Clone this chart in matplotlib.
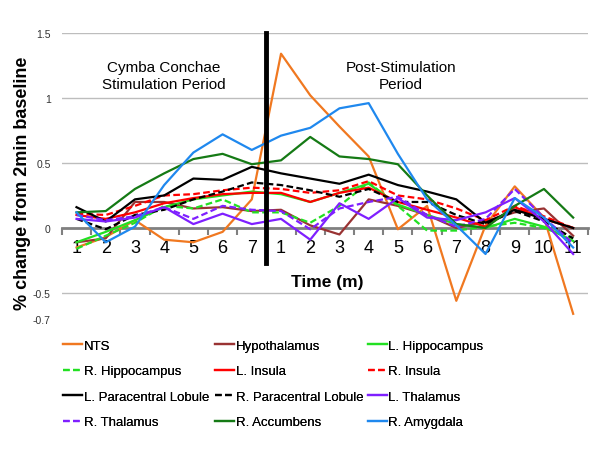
import numpy as np
import matplotlib
matplotlib.use("Agg")
import matplotlib.pyplot as plt

plt.rcParams['font.family'] = ['Liberation Sans', 'DejaVu Sans']

# category labels: 7 min stimulation + 11 min post-stimulation
tick_labels = [str(i) for i in range(1, 8)] + [str(i) for i in range(1, 12)]

nts = [-0.15, -0.07, 0.06, -0.09, -0.11, -0.03, 0.22, 1.34, 1.02, 0.78, 0.55, -0.01, 0.17, -0.56, 0.02, 0.32, 0.08, -0.66]
hypothalamus = [-0.11, -0.08, 0.2, 0.2, 0.15, 0.16, 0.13, 0.14, 0.02, -0.05, 0.22, 0.17, 0.1, 0.0, 0.05, 0.12, 0.15, -0.06]
l_hippo = [-0.11, -0.03, 0.06, 0.16, 0.22, 0.25, 0.28, 0.26, 0.2, 0.27, 0.34, 0.18, 0.1, 0.03, 0.0, 0.07, 0.01, -0.1]
r_hippo = [-0.16, -0.06, 0.04, 0.17, 0.15, 0.22, 0.12, 0.12, 0.04, 0.17, 0.35, 0.17, -0.02, -0.02, 0.01, 0.04, 0.0, -0.08]
l_insula = [0.1, 0.07, 0.12, 0.19, 0.23, 0.26, 0.27, 0.27, 0.2, 0.27, 0.31, 0.2, 0.14, 0.08, 0.01, 0.16, 0.07, 0.0]
r_insula = [0.11, 0.1, 0.17, 0.25, 0.26, 0.29, 0.31, 0.3, 0.27, 0.29, 0.36, 0.25, 0.22, 0.15, 0.06, 0.17, 0.09, 0.0]
l_paracentral = [0.16, 0.05, 0.22, 0.25, 0.38, 0.37, 0.47, 0.42, 0.38, 0.34, 0.41, 0.33, 0.28, 0.22, 0.04, 0.14, 0.07, 0.0]
r_paracentral = [0.07, -0.01, 0.1, 0.14, 0.22, 0.28, 0.35, 0.33, 0.29, 0.24, 0.3, 0.2, 0.2, 0.1, 0.03, 0.13, 0.05, -0.08]
l_thalamus = [0.07, 0.05, 0.08, 0.16, 0.03, 0.11, 0.03, 0.07, -0.09, 0.19, 0.07, 0.23, 0.08, 0.06, 0.12, 0.23, 0.05, -0.2]
r_thalamus = [0.1, 0.06, 0.09, 0.16, 0.07, 0.17, 0.14, 0.13, -0.01, 0.15, 0.2, 0.24, 0.1, 0.01, 0.07, 0.3, 0.08, -0.12]
r_accumbens = [0.12, 0.13, 0.3, 0.42, 0.53, 0.57, 0.49, 0.52, 0.7, 0.55, 0.53, 0.49, 0.25, 0.03, 0.0, 0.17, 0.3, 0.08]
r_amygdala = [0.12, -0.11, 0.01, 0.33, 0.58, 0.72, 0.6, 0.71, 0.77, 0.92, 0.96, 0.57, 0.22, 0.02, -0.2, 0.23, 0.08, -0.15]

series = [
    ("NTS", nts, "#f07820", "-"),
    ("Hypothalamus", hypothalamus, "#993333", "-"),
    ("L. Hippocampus", l_hippo, "#22e022", "-"),
    ("R. Hippocampus", r_hippo, "#22e022", "--"),
    ("L. Insula", l_insula, "#ff0000", "-"),
    ("R. Insula", r_insula, "#ff0000", "--"),
    ("L. Paracentral Lobule", l_paracentral, "#000000", "-"),
    ("R. Paracentral Lobule", r_paracentral, "#000000", "--"),
    ("L. Thalamus", l_thalamus, "#7f1fff", "-"),
    ("R. Thalamus", r_thalamus, "#7f1fff", "--"),
    ("R. Accumbens", r_accumbens, "#157a15", "-"),
    ("R. Amygdala", r_amygdala, "#1f88ee", "-"),
]

fig = plt.figure(figsize=(6.01, 4.52), dpi=100)
ax = fig.add_axes([0.103, 0.292, 0.875, 0.633])

x = np.arange(len(tick_labels))
handles = []
for name, vals, col, ls in series:
    h, = ax.plot(x, vals, color=col, linestyle=ls, lw=1.6, label=name,
                 dashes=(3, 1.5) if ls == "--" else (None, None))
    handles.append(h)

ax.set_xlim(-0.5, len(x) - 0.5)
ax.set_ylim(-0.7, 1.5)
ax.set_yticks([1.5, 1, 0.5, 0, -0.5, -0.7])
ax.set_yticklabels(["1.5", "1", "0.5", "0", "-0.5", "-0.7"], fontsize=7.5, color="#333333")
ax.tick_params(axis="y", length=0, pad=8)
for v in [1.5, 1, 0.5, -0.5]:
    ax.axhline(v, color="#bdbdbd", lw=1, zorder=0)

for s in ["left", "right", "top"]:
    ax.spines[s].set_visible(False)
ax.spines["bottom"].set_position(("data", 0))
ax.spines["bottom"].set_color("#808080")
ax.spines["bottom"].set_linewidth(2)
ax.spines["bottom"].set_zorder(1)
ax.set_xticks(x)
ax.set_xticklabels(tick_labels, fontsize=13)
ax.set_xticks(np.arange(-0.5, len(x), 1), minor=True)
ax.tick_params(axis="x", which="major", length=0, pad=8)
ax.tick_params(axis="x", which="minor", length=5, width=1.5, color="#808080", direction="out")

# divider between stimulation and post-stimulation
ax.plot([6.5, 6.5], [-0.27, 1.5], color="black", lw=3.5, zorder=5, clip_on=False)

ax.text(3.0, 1.17, "Cymba Conchae\nStimulation Period", ha="center", va="center",
        fontsize=11, linespacing=1.3)
ax.text(11.1, 1.17, "Post-Stimulation\nPeriod", ha="center", va="center",
        fontsize=11, linespacing=1.3)

fig.text(0.545, 0.376, "Time (m)", ha="center", va="center", fontsize=12.5, fontweight="bold")
fig.text(0.037, 0.595, "% change from 2min baseline", rotation=90, ha="center", va="center",
         fontsize=13, fontweight="bold")

# legend: three columns, filled row-wise like the original
col_x = [0.105, 0.358, 0.612]
for c in range(3):
    idx = list(range(c, len(handles), 3))
    leg = fig.legend([handles[i] for i in idx], [series[i][0] for i in idx],
                     loc="upper left", bbox_to_anchor=(col_x[c], 0.246), frameon=False,
                     fontsize=9.5, handlelength=1.45, handletextpad=0.1,
                     labelspacing=1.0, borderaxespad=0, borderpad=0)
    fig.add_artist(leg)

fig.savefig("out.png", dpi=100)
